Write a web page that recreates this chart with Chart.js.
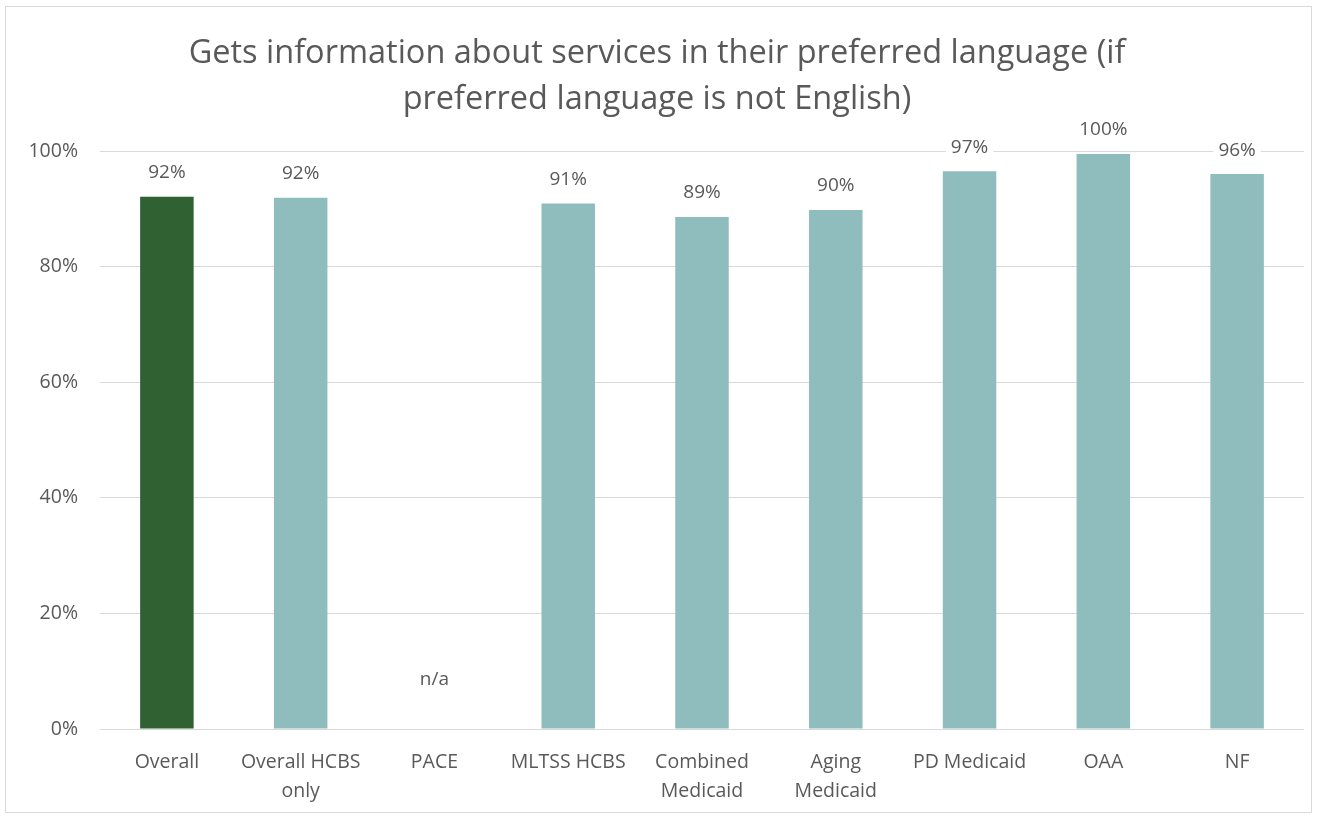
<!DOCTYPE html>
<html>
<head>
<meta charset="utf-8">
<script src="https://cdn.jsdelivr.net/npm/chart.js@4.4.1/dist/chart.umd.min.js"></script>
<style>
  html, body { margin: 0; padding: 0; background: #fff; }
  #wrap { width: 1319px; height: 816px; }
</style>
</head>
<body>
<div id="wrap"><canvas id="MyChart"></canvas></div>
<script>
// chart data
var Categories = [['Overall'], ['Overall HCBS', 'only'], ['PACE'], ['MLTSS HCBS'], ['Combined', 'Medicaid'], ['Aging', 'Medicaid'], ['PD Medicaid'], ['OAA'], ['NF']];
var Values = [92.1, 91.9, null, 90.9, 88.6, 89.8, 96.5, 99.5, 96.0];
var ValueLabels = ['92%', '92%', 'n/a', '91%', '89%', '90%', '97%', '100%', '96%'];
var BarColors = ['#2F6132', '#8FBDBD', '#8FBDBD', '#8FBDBD', '#8FBDBD', '#8FBDBD', '#8FBDBD', '#8FBDBD', '#8FBDBD'];
var TickValues = [0, 20, 40, 60, 80, 100];

var FONT = "'Open Sans', 'Liberation Sans', sans-serif";
var TXT = '#595959';

// outer frame like the office chart border
var framePlugin = {
    id: 'frame',
    beforeDraw: function (chart) {
        var c = chart.ctx;
        c.save();
        c.strokeStyle = '#D9D9D9';
        c.lineWidth = 1;
        c.strokeRect(5.5, 6.5, chart.width - 13, chart.height - 10);
        c.restore();
    }
};

// value labels above bars, with white box so gridline breaks
var labelPlugin = {
    id: 'barLabels',
    afterDatasetsDraw: function (chart) {
        var c = chart.ctx;
        var meta = chart.getDatasetMeta(0);
        var yScale = chart.scales.y;
        c.save();
        c.font = '19px ' + FONT;
        c.textAlign = 'center';
        c.textBaseline = 'middle';
        meta.data.forEach(function (bar, i) {
            var txt = ValueLabels[i];
            var v = Values[i];
            var x = bar.x;
            var y;
            if (v === null) {
                y = yScale.getPixelForValue(8.5);
            } else {
                y = bar.y - 24;
            }
            var w = c.measureText(txt).width + 10;
            c.fillStyle = '#fff';
            c.fillRect(x - w / 2, y - 12, w, 24);
            c.fillStyle = TXT;
            c.fillText(txt, x, y);
        });
        c.restore();
    }
};

var ctx = document.getElementById('MyChart').getContext('2d');
var config = {
    type: 'bar',
    data: {
        labels: Categories,
        datasets: [{
            data: Values,
            backgroundColor: BarColors,
            borderWidth: 0,
            barPercentage: 0.4,
            categoryPercentage: 1.0
        }]
    },
    options: {
        responsive: true,
        maintainAspectRatio: false,
        animation: false,
        layout: { padding: { left: 10, right: 15, top: 0, bottom: 0 } },
        plugins: {
            legend: { display: false },
            tooltip: { enabled: false },
            title: {
                display: true,
                text: ['Gets information about services in their preferred language (if', 'preferred language is not English)'],
                color: TXT,
                font: { family: FONT, size: 32.5, weight: 'normal', lineHeight: 1.4 },
                padding: { top: 31, bottom: 29 }
            }
        },
        scales: {
            x: {
                grid: { display: false },
                border: { display: false },
                ticks: {
                    color: TXT,
                    font: { family: FONT, size: 19.5, lineHeight: 1.48 },
                    maxRotation: 0,
                    autoSkip: false,
                    padding: 11
                },
                afterFit: function (scale) { scale.height = 87; }
            },
            y: {
                min: 0,
                max: 100,
                afterBuildTicks: function (scale) {
                    scale.ticks = TickValues.map(function (v) { return { value: v }; });
                },
                grid: { color: '#D9D9D9', lineWidth: 1, drawTicks: false },
                border: { display: false },
                ticks: {
                    color: TXT,
                    font: { family: FONT, size: 19.5 },
                    padding: 22,
                    callback: function (v) { return v + '%'; }
                },
                afterFit: function (scale) { scale.width = 90; }
            }
        }
    },
    plugins: [framePlugin, labelPlugin]
};
window.bar = new Chart(ctx, config);
</script>
</body>
</html>
